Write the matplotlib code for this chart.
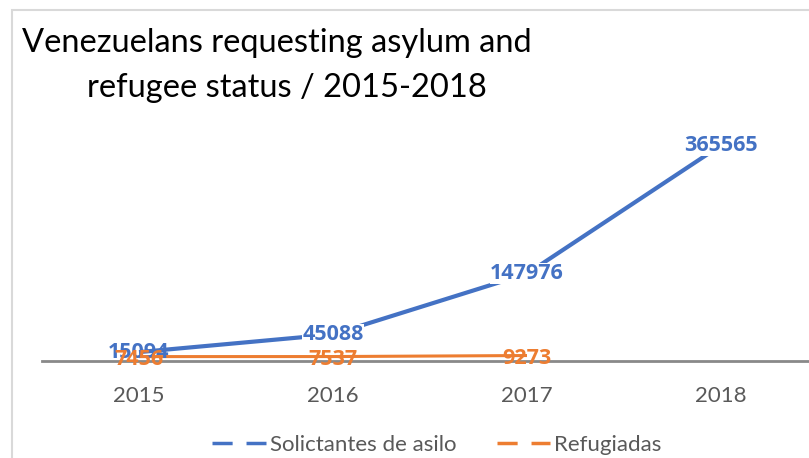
import matplotlib
matplotlib.use("Agg")
import matplotlib.pyplot as plt
from matplotlib.lines import Line2D
from matplotlib.patches import Rectangle

plt.rcParams['font.family'] = ['Lato', 'DejaVu Sans']

#%% data
years = ['2015', '2016', '2017', '2018']
solicitantes = [15094, 45088, 147976, 365565]
refugiadas = [7456, 7537, 9273]

blue = '#4472C4'
orange = '#ED7D31'

W, H = 809, 458
fig = plt.figure(figsize=(W / 100, H / 100), dpi=100)

# chart area border (cut off at right and bottom like the screenshot)
fig.patches.append(Rectangle((12 / W, -0.1), 1.2, 1.1 - 10 / H, transform=fig.transFigure,
                             fill=False, edgecolor='#D9D9D9', linewidth=1.5))

ax = fig.add_axes([42 / W, 1 - 361 / H, 776 / W, 236 / H])
ax.set_xlim(-0.5, 3.5)
ax.set_ylim(0, 400000)

x1 = list(range(len(solicitantes)))
x2 = list(range(len(refugiadas)))
ax.plot(x1, solicitantes, color=blue, linewidth=3, solid_capstyle='butt', zorder=2)
ax.plot(x2, refugiadas, color=orange, linewidth=2.2, solid_capstyle='butt', zorder=2)

lab = dict(family=['Open Sans', 'DejaVu Sans'], fontsize=15.5, fontweight='bold')
for xi, v in zip(x1, solicitantes):
    ax.annotate(str(v), (xi, v), xytext=(0, 0), textcoords='offset points',
                ha='center', va='center', color=blue,
                bbox=dict(boxstyle='square,pad=0', fc='white', ec='none') if xi > 0 else None,
                zorder=3, **lab)
for xi, v in zip(x2, refugiadas):
    ax.annotate(str(v), (xi, v), xytext=(0, -2), textcoords='offset points',
                ha='center', va='center', color=orange, zorder=4, **lab)

for s in ['top', 'right', 'left']:
    ax.spines[s].set_visible(False)
ax.spines['bottom'].set_color('#898989')
ax.spines['bottom'].set_linewidth(2)
ax.spines['bottom'].set_zorder(1)
ax.set_yticks([])
ax.set_xticks(range(len(years)))
ax.set_xticklabels(years)
ax.tick_params(axis='x', length=0, pad=18, labelsize=16, labelcolor='#595959')
ax.patch.set_visible(False)

fig.text(22 / W, 1 - 52 / H, 'Venezuelans requesting asylum and',
         ha='left', va='baseline', fontsize=23.5, color='#000000')
fig.text(87 / W, 1 - 97 / H, 'refugee status / 2015-2018',
         ha='left', va='baseline', fontsize=23.5, color='#000000')

handles = [Line2D([], [], color=blue, linewidth=2.5, dashes=(5.8, 4)),
           Line2D([], [], color=orange, linewidth=2.5, dashes=(5.8, 4))]
fig.legend(handles, ['Solictantes de asilo', 'Refugiadas'], loc='center',
           bbox_to_anchor=(437 / W, 1 - 445 / H), ncol=2, frameon=False,
           fontsize=16, labelcolor='#595959', handlelength=2.4, handletextpad=0.2,
           columnspacing=1.8)

fig.savefig('out.png', dpi=100)
